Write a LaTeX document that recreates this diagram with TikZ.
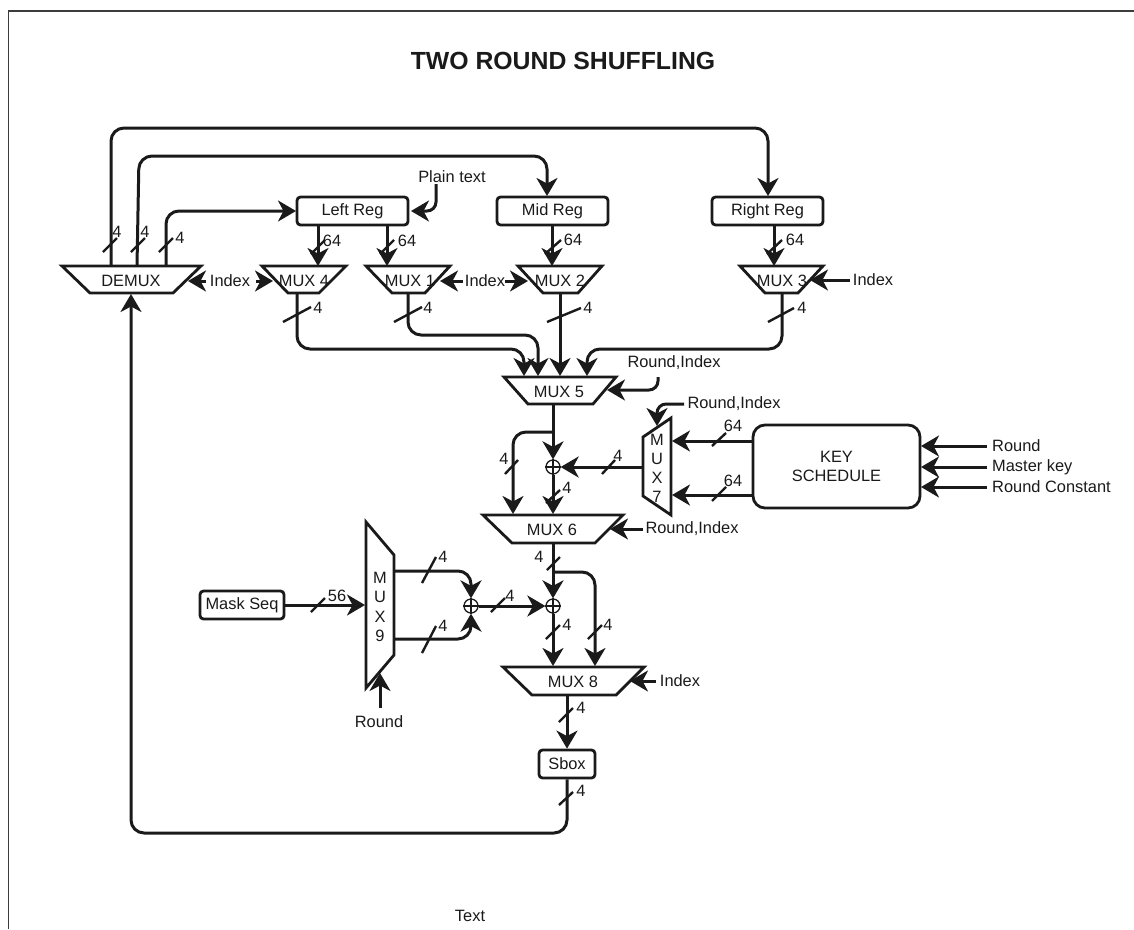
\documentclass[tikz,border=0pt]{standalone}
\usepackage{fontspec}
\setmainfont{Liberation Sans}
\usetikzlibrary{arrows.meta}
\definecolor{ink}{HTML}{1A1A1A}
\tikzset{
  wire/.style={draw=ink,line width=3pt,rounded corners=13pt,line cap=butt},
  arrowwire/.style={wire,-{Stealth[length=18pt,width=21pt,inset=5.5pt]}},
  muxshape/.style={draw=ink,line width=2.8pt,line join=miter,fill=white},
  regbox/.style={draw=ink,line width=2.8pt,rounded corners=3.5pt,inner sep=0pt,text=ink,font=\fontsize{16.4}{18}\selectfont,fill=white},
  lab/.style={text=ink,font=\fontsize{16.4}{19}\selectfont,inner sep=0pt,align=center},
  oplusnode/.style={circle,draw=ink,line width=1.3pt,minimum size=14pt,inner sep=0pt,fill=white},
  busline/.style={draw=ink,line width=2.4pt},
}
\newcommand\busmark[5]{% name, from, to, label position, label
  \coordinate (#1a) at (#2);\coordinate (#1b) at (#3);
  \draw[busline] (#1a) -- (#1b);
  \node[lab] (#1l) at (#4) {#5};}
\newcommand\oplusmark[1]{%
  \draw[draw=ink,line width=1.3pt] (#1.north) -- (#1.south) (#1.west) -- (#1.east);}
\begin{document}
\begin{tikzpicture}[x=1pt,y=-1pt]
\useasboundingbox (0,0) rectangle (1134,929);
% frame
\coordinate (fbl) at (8.5,929);\coordinate (ftl) at (8.5,11);\coordinate (ftr) at (1134,11);
\draw[draw=ink!85,line width=1.2pt] (fbl) -- (ftl) -- (ftr);
\node[text=ink,font=\fontsize{24.8}{27}\selectfont\bfseries,inner sep=0pt] (title) at (563,60.5) {TWO ROUND SHUFFLING};
\node[lab] (textlabel) at (470,916) {Text};

% ----- port coordinates
\coordinate (dA) at (111,266);\coordinate (dB) at (137,266);\coordinate (dC) at (166,266);
\coordinate (dAup) at (111,128);\coordinate (dBup) at (139,156);\coordinate (dCup) at (166,211);
\coordinate (dIn) at (131,294);\coordinate (dIdx) at (188,281);
\coordinate (m4I) at (273,281);\coordinate (m1I) at (440,281);\coordinate (m2I) at (528,281);\coordinate (m3I) at (810,280);
\coordinate (m4in) at (318,266);\coordinate (m1in) at (387,266);\coordinate (m2in) at (552,266);\coordinate (m3in) at (774,266);
\coordinate (m4out) at (297,292);\coordinate (m1out) at (408,292);\coordinate (m2out) at (560,292);\coordinate (m3out) at (782,292);
\coordinate (m5a) at (524,376);\coordinate (m5b) at (538,376);\coordinate (m5c) at (560,376);\coordinate (m5d) at (587,376);
\coordinate (m5I) at (607,390);\coordinate (m5out) at (553,404);
\coordinate (m6a) at (513,514);\coordinate (m6b) at (553,514);\coordinate (m6I) at (610,529);\coordinate (m6out) at (553,543);
\coordinate (m7I) at (657,426);\coordinate (m7a) at (672,441);\coordinate (m7b) at (672,495);\coordinate (m7out) at (643,467);
\coordinate (m8a) at (553,666);\coordinate (m8b) at (595,666);\coordinate (m8I) at (630,681);\coordinate (m8out) at (567,695);
\coordinate (m9in) at (365,605);\coordinate (m9I) at (380,673);\coordinate (m9a) at (394,571);\coordinate (m9b) at (394,639);
\coordinate (lrA) at (318,225);\coordinate (lrB) at (387,225);\coordinate (mrB) at (552,225);\coordinate (rrB) at (774,225);
\coordinate (mrT) at (547,196);\coordinate (rrT) at (768,196);\coordinate (lrW) at (296,211);\coordinate (lrE) at (411,211);
\coordinate (ksA) at (753,441);\coordinate (ksB) at (753,495);
\coordinate (ks1) at (921,446);\coordinate (ks2) at (921,467);\coordinate (ks3) at (921,487);

% ----- mux shapes
\draw[muxshape] (62,266) -- (201,266) -- (173,293) -- (90,293) -- cycle;
\draw[muxshape] (262,266) -- (346,266) -- (319,293) -- (288,293) -- cycle;
\draw[muxshape] (366,266) -- (450,266) -- (425,293) -- (392,293) -- cycle;
\draw[muxshape] (518,266) -- (602,266) -- (578,293) -- (543,293) -- cycle;
\draw[muxshape] (740,266) -- (823,266) -- (798,293) -- (765,293) -- cycle;
\draw[muxshape] (504,377) -- (616,377) -- (593,404) -- (528,404) -- cycle;
\draw[muxshape] (483,515) -- (623,515) -- (595,543) -- (512,543) -- cycle;
\draw[muxshape] (503,667) -- (644,667) -- (616,695) -- (532,695) -- cycle;
\draw[muxshape] (643,437) -- (671,418) -- (671,515) -- (643,496) -- cycle;
\draw[muxshape] (366,522) -- (394,555) -- (394,655) -- (366,688) -- cycle;

% ----- mux labels
\node[lab] (demux) at (131,281) {DEMUX};
\node[lab] (mux4) at (304,281) {MUX 4};
\node[lab] (mux1) at (410,281) {MUX 1};
\node[lab] (mux2) at (560,281) {MUX 2};
\node[lab] (mux3) at (782,281) {MUX 3};
\node[lab] (mux5) at (559,392) {MUX 5};
\node[lab] (mux6) at (552,530) {MUX 6};
\node[lab] (mux8) at (573,682) {MUX 8};
\node[lab,font=\fontsize{16.4}{19}\selectfont] (mux7) at (657,468) {M\\U\\X\\7};
\node[lab,font=\fontsize{16.4}{19.3}\selectfont] (mux9) at (380,607) {M\\U\\X\\9};

% ----- boxes
\node[regbox,minimum width=111pt,minimum height=28pt] (lreg) at (352.5,211) {Left Reg};
\node[regbox,minimum width=111pt,minimum height=28pt] (mreg) at (552.5,211) {Mid Reg};
\node[regbox,minimum width=111pt,minimum height=28pt] (rreg) at (767.5,211) {Right Reg};
\node[regbox,minimum width=84pt,minimum height=28pt] (mask) at (242,605) {Mask Seq};
\node[regbox,minimum width=56pt,minimum height=28pt] (sbox) at (567,764) {Sbox};
\node[regbox,rounded corners=12pt,minimum width=167pt,minimum height=83pt,align=center,font=\fontsize{16.4}{19}\selectfont] (ks) at (836.5,466.5) {KEY\\SCHEDULE};
\node[oplusnode] (xa) at (553,467) {};\oplusmark{xa}
\node[oplusnode] (xb) at (553,606) {};\oplusmark{xb}
\node[oplusnode] (xc) at (471,606) {};\oplusmark{xc}

% ----- free labels
\node[lab] (plain) at (452,177) {Plain text};
\node[lab] (idxa) at (230,281) {Index};
\node[lab] (idxb) at (485,281) {Index};
\node[lab] (idxc) at (873,280) {Index};
\node[lab] (idxd) at (680,681) {Index};
\node[lab] (riA) at (674,363) {Round,Index};
\node[lab] (riB) at (734,404) {Round,Index};
\node[lab] (riC) at (692,529) {Round,Index};
\node[lab] (rnd) at (379,722) {Round};
\node[lab,anchor=west] (kr) at (992,446) {Round};
\node[lab,anchor=west] (km) at (992,467) {Master key};
\node[lab,anchor=west] (kc) at (992,487) {Round Constant};

% ----- connectors
\draw[arrowwire] (dA) -- (dAup) -- (rrT |- dAup) -- (rrT);
\draw[arrowwire] (dB) -- (dBup) -- (mrT |- dBup) -- (mrT);
\draw[arrowwire] (dC) -- (dCup) -- (lrW);
\coordinate (ptop) at (436,184);
\draw[arrowwire,rounded corners=9pt] (ptop) -- (ptop |- lrE) -- (lrE);
\draw[arrowwire] (lrA) -- (m4in);
\draw[arrowwire] (lrB) -- (m1in);
\draw[arrowwire] (mrB) -- (m2in);
\draw[arrowwire] (rrB) -- (m3in);
\coordinate (m4y) at (297,349);\coordinate (m1y) at (408,335);\coordinate (m3y) at (782,349);
\draw[arrowwire] (m4out) -- (m4y) -- (m5a |- m4y) -- (m5a);
\draw[arrowwire] (m1out) -- (m1y) -- (m5b |- m1y) -- (m5b);
\draw[arrowwire] (m2out) -- (m5c);
\draw[arrowwire] (m3out) -- (m3y) -- (m5d |- m3y) -- (m5d);
\coordinate (iA) at (206,281);\coordinate (iB) at (256,281);\coordinate (iC) at (463,281);\coordinate (iD) at (505,281);\coordinate (iE) at (850,280);\coordinate (iF) at (656,681);
\draw[arrowwire] (iA) -- (dIdx);
\draw[arrowwire] (iB) -- (m4I);
\draw[arrowwire] (iC) -- (m1I);
\draw[arrowwire] (iD) -- (m2I);
\draw[arrowwire] (iE) -- (m3I);
\draw[arrowwire] (iF) -- (m8I);
\coordinate (r5) at (658,377);\coordinate (r7) at (684,404);\coordinate (r6) at (643,529);
\draw[arrowwire,rounded corners=9pt] (r5) -- (r5 |- m5I) -- (m5I);
\draw[arrowwire,rounded corners=9pt] (r7) -- (m7I |- r7) -- (m7I);
\draw[arrowwire] (r6) -- (m6I);
\draw[arrowwire] (m5out) -- (xa.north);
\coordinate (br5) at (553,432);
\draw[arrowwire] (br5) -- (m6a |- br5) -- (m6a);
\draw[arrowwire] (xa.south) -- (m6b);
\draw[arrowwire] (m7out) -- (xa.east);
\draw[arrowwire] (ksA) -- (m7a);
\draw[arrowwire] (ksB) -- (m7b);
\coordinate (k1) at (987,446);\coordinate (k2) at (987,467);\coordinate (k3) at (987,487);
\draw[arrowwire] (k1) -- (ks1);
\draw[arrowwire] (k2) -- (ks2);
\draw[arrowwire] (k3) -- (ks3);
\draw[arrowwire] (m6out) -- (xb.north);
\coordinate (br6) at (553,572);
\draw[arrowwire] (br6) -- (m8b |- br6) -- (m8b);
\draw[arrowwire] (xb.south) -- (m8a);
\draw[arrowwire] (xc.east) -- (xb.west);
\draw[arrowwire] (mask.east) -- (m9in);
\coordinate (rr) at (380,708);
\draw[arrowwire] (rr) -- (m9I);
\draw[arrowwire] (m9a) -- (xc.north |- m9a) -- (xc.north);
\draw[arrowwire] (m9b) -- (xc.south |- m9b) -- (xc.south);
\draw[arrowwire] (m8out) -- (sbox.north);
\coordinate (sb) at (567,833);
\draw[arrowwire] (sbox.south) -- (sb) -- (dIn |- sb) -- (dIn);

% ----- bus marks
\busmark{ba}{103,252}{117,238}{117,232}{4}
\busmark{bb}{131,252}{145,238}{145,232}{4}
\busmark{bc}{159,252}{173,238}{180,238}{4}
\busmark{bd}{311,254}{325,240}{332,241}{64}
\busmark{be}{380,254}{394,240}{407,241}{64}
\busmark{bf}{545,254}{561,240}{573,240}{64}
\busmark{bg}{767,254}{782,240}{795,240}{64}
\busmark{bh}{283,322}{311,307}{318,308}{4}
\busmark{bi}{394,322}{422,307}{428,308}{4}
\busmark{bj}{547,322}{581,308}{588,308}{4}
\busmark{bk}{768,322}{794,308}{802,308}{4}
\busmark{bl}{712,446}{726,433}{733,426}{64}
\busmark{bm}{712,501}{726,487}{733,481}{64}
\busmark{bn}{505,474}{518,460}{504,459}{4}
\busmark{bo}{602,474}{615,460}{618,456}{4}
\busmark{bp}{546,503}{560,490}{567,488}{4}
\busmark{bq}{547,570}{560,557}{539,557}{4}
\busmark{br}{546,639}{560,625}{567,625}{4}
\busmark{bs}{588,639}{602,625}{608,625}{4}
\busmark{bt}{559,722}{573,708}{581,708}{4}
\busmark{bu}{559,805}{573,792}{581,791}{4}
\busmark{bv}{311,612}{325,598}{337,596}{56}
\busmark{bw}{422,583}{436,557}{443,557}{4}
\busmark{bx}{422,653}{436,626}{443,626}{4}
\busmark{by}{491,612}{505,598}{510,596}{4}
\end{tikzpicture}
\end{document}
